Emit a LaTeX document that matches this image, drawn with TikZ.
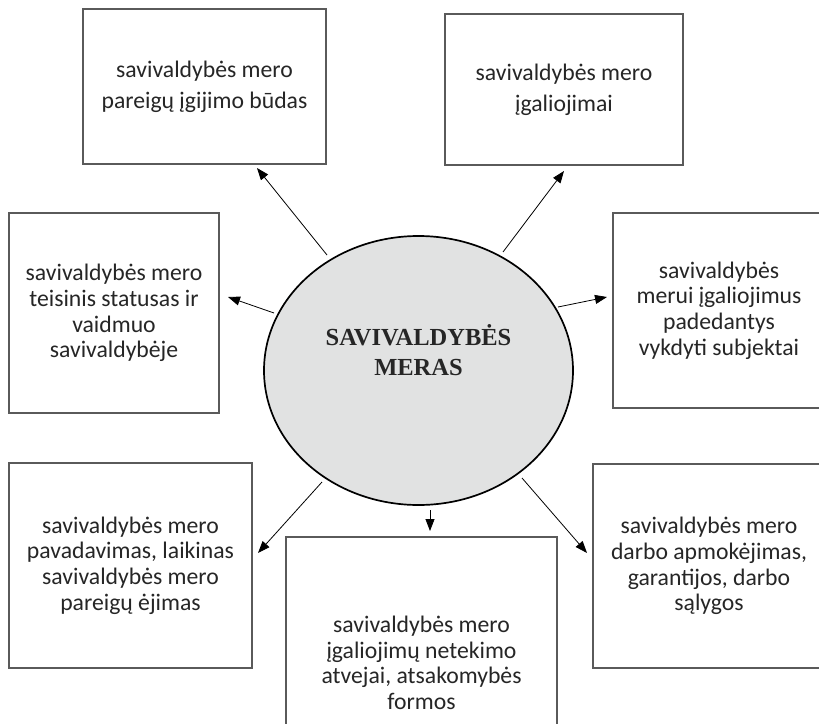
\documentclass[tikz,border=0pt]{standalone}
\usepackage{fontspec}
\setmainfont{Carlito}
\newfontfamily\titlefont{Liberation Serif}
\usetikzlibrary{arrows.meta,shapes.geometric}
\definecolor{ellfill}{HTML}{E1E2E2}
\definecolor{boxline}{HTML}{5A5A5A}
\definecolor{txt}{HTML}{262626}
\begin{document}
\begin{tikzpicture}[x=1pt,y=-1pt,
  topic/.style={draw=boxline,line width=1.1pt,rectangle,inner sep=0pt,align=center,
    text=txt,font=\fontsize{23.7}{25.6}\selectfont},
  topictall/.style={topic,font=\fontsize{23.7}{31}\selectfont},
  arr/.style={line width=0.8pt,-{Triangle[length=12pt,width=9pt]}}]
\clip (0,0) rectangle (819,723);
\fill[white] (0,0) rectangle (819,723);
% centre
\node[ellipse,draw=black,line width=1.7pt,fill=ellfill,minimum width=309pt,minimum height=269pt,inner sep=0pt] (ell) at (418.5,370.5) {};
\node[font=\titlefont\bfseries\fontsize{24.5}{30}\selectfont,text=txt,align=center] (title) at (418.5,350) {SAVIVALDYBĖS\\MERAS};
% boxes
\node[topictall,minimum width=243pt,minimum height=155pt] (b1) at (204.5,86.5) {savivaldybės mero\\pareigų įgijimo būdas};
\node[topictall,minimum width=238pt,minimum height=151pt] (b2) at (564,89.5) {savivaldybės mero\\įgaliojimai};
\node[topic,minimum width=210pt,minimum height=200pt] (b3) at (114,313) {savivaldybės mero\\teisinis statusas ir\\vaidmuo\\savivaldybėje};
\node[topic,minimum width=212pt,minimum height=195pt] (b4) at (719,310.5) {savivaldybės\\merui įgaliojimus\\padedantys\\vykdyti subjektai};
\node[topic,minimum width=243pt,minimum height=205pt] (b5) at (130.5,565.5) {savivaldybės mero\\pavadavimas, laikinas\\savivaldybės mero\\pareigų ėjimas};
\node[topic,minimum width=271pt,minimum height=252pt] (b6) at (421.5,663) {savivaldybės mero\\įgaliojimų netekimo\\atvejai, atsakomybės\\formos};
\node[topic,minimum width=232pt,minimum height=204pt] (b7) at (709,566) {savivaldybės mero\\darbo apmokėjimas,\\garantijos, darbo\\sąlygos};
% arrow end points
\coordinate (s1) at (327,255); \coordinate (t1) at (257,168);
\coordinate (s2) at (503,252); \coordinate (t2) at (564,171);
\coordinate (s3) at (274,313); \coordinate (t3) at (228,297);
\coordinate (s4) at (558,307); \coordinate (t4) at (607,297);
\coordinate (s5) at (322,482); \coordinate (t5) at (258,553);
\coordinate (s6) at (430,510); \coordinate (t6) at (430,531);
\coordinate (s7) at (522,478); \coordinate (t7) at (587,553);
\foreach \i in {1,...,7} {\draw[arr] (s\i) -- (t\i);}
\end{tikzpicture}
\end{document}
